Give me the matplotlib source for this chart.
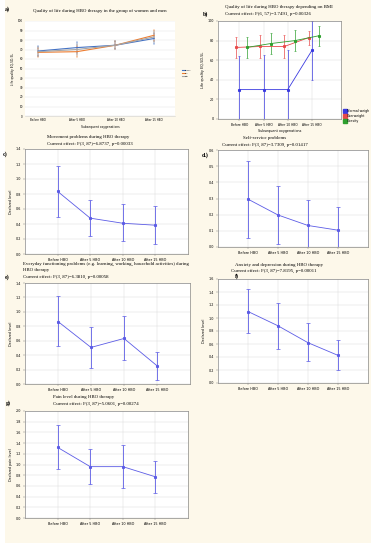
import numpy as np
import matplotlib
matplotlib.use("Agg")
import matplotlib.pyplot as plt
from matplotlib.patches import Rectangle
from matplotlib.lines import Line2D

# ---- DATA ----
stages = ["Before HBO", "After 5 HBO", "After 10 HBO", "After 15 HBO"]

# a) quality of life, women / men / total
a_names = ["Women", "Men", "Total"]
a_blue = [68.4, 72.0, 74.5, 81.6]
a_orange = [67.0, 67.7, 74.5, 85.0]
a_gray = [67.7, 70.0, 74.5, 83.3]
a_err = [4.8, 5.5, 4.4, 5.8]

# b) quality of life by BMI
b_names = ["Normal weigh", "Overweight", "Obesity"]
b_normal = [30, 30, 30, 70]
b_normal_err = [34, 35, 40, 30]
b_over = [73, 74, 74, 83]
b_over_err = [11, 12, 12, 7]
b_obese = [73, 77, 80, 85]
b_obese_err = [11, 11, 11, 10]

# c) movement problems
c_mean = [0.835, 0.478, 0.41, 0.384]
c_lo = [0.50, 0.24, 0.174, 0.134]
c_hi = [1.17, 0.714, 0.67, 0.634]

# d) self-service problems
d_mean = [0.296, 0.198, 0.133, 0.104]
d_lo = [0.058, 0.02, -0.02, -0.04]
d_hi = [0.53, 0.375, 0.29, 0.246]

# e) everyday functioning problems
e_mean = [0.866, 0.507, 0.631, 0.253]
e_lo = [0.52, 0.217, 0.33, 0.055]
e_hi = [1.22, 0.79, 0.94, 0.447]

# f) anxiety and depression
f_mean = [1.10, 0.88, 0.62, 0.425]
f_lo = [0.77, 0.53, 0.34, 0.197]
f_hi = [1.44, 1.23, 0.92, 0.66]

# g) pain level
g_mean = [1.32, 0.96, 0.96, 0.77]
g_lo = [0.91, 0.64, 0.57, 0.47]
g_hi = [1.73, 1.29, 1.36, 1.07]

W, H = 376, 550
fig = plt.figure(figsize=(W / 100, H / 100), dpi=100)
fig.patch.set_facecolor("white")
fig.patches.append(Rectangle((5 / W, 1 - 543 / H), 366 / W, 543 / H,
                             transform=fig.transFigure, facecolor="#fdf8ea",
                             edgecolor="none", zorder=-10))

SERIF = "Liberation Serif"
SANS = "DejaVu Sans"
TFS = 3.5
LFS = 4.3
BLUE = "#5c5ce6"


def box(l, t, r, b):
    return [l / W, 1 - b / H, (r - l) / W, (b - t) / H]


def txt(x, y, s, ha="left", size=TFS, weight="normal"):
    fig.text(x / W, 1 - y / H, s, ha=ha, va="center", fontsize=size,
             family=SERIF, weight=weight)


def stat_axes(rect, ylim, yticks, ylabel):
    ax = fig.add_axes(rect)
    ax.set_facecolor("white")
    ax.set_xlim(-1, 4)
    ax.set_ylim(ylim)
    ax.set_xticks(range(4))
    ax.set_xticklabels(stages, fontsize=2.4, family=SANS)
    ax.set_yticks(yticks)
    ax.set_yticklabels([f"{v:.1f}" for v in yticks], fontsize=2.4, family=SANS)
    ax.tick_params(length=1.2, width=0.3, pad=1.5, color="#777777")
    ax.grid(True, color="#dcdcdc", linewidth=0.35)
    for s in ax.spines.values():
        s.set_color("#888888")
        s.set_linewidth(0.5)
    if ylabel:
        ax.set_ylabel(ylabel, fontsize=2.4, family=SANS, labelpad=2)
    return ax


def stat_line(ax, mean, lo, hi):
    x = np.arange(4)
    mean = np.array(mean)
    yerr = [mean - np.array(lo), np.array(hi) - mean]
    ax.errorbar(x, mean, yerr=yerr, color=BLUE, linewidth=0.6, elinewidth=0.6,
                capsize=1.2, capthick=0.5, marker="s", markersize=1.2)


# ---- a) ----
ax = fig.add_axes(box(25, 21, 175, 116))
ax.set_facecolor("white")
xa = np.arange(4)
for vals, col, name in [(a_blue, "#4472c4", a_names[0]),
                        (a_orange, "#ed7d31", a_names[1]),
                        (a_gray, "#a5a5a5", a_names[2])]:
    ax.errorbar(xa, vals, yerr=a_err, color=col, linewidth=0.8, elinewidth=0.35,
                capsize=0.8, capthick=0.35, label=name)
ax.set_xlim(-0.34, 3.54)
ax.set_ylim(0, 100)
ax.set_yticks(range(0, 101, 10))
ax.set_yticklabels([str(v) for v in range(0, 101, 10)], fontsize=2.0, family=SANS)
ax.set_xticks(xa)
ax.set_xticklabels(stages, fontsize=2.0, family=SANS)
ax.tick_params(length=0, pad=1.5)
ax.grid(True, axis="y", color="#e6e6e6", linewidth=0.35)
for s in ax.spines.values():
    s.set_visible(False)
ax.spines["bottom"].set_visible(True)
ax.spines["bottom"].set_color("#d0d0d0")
ax.spines["bottom"].set_linewidth(0.4)
ax.set_xlabel("Subsequent oxygenations", fontsize=2.2, family=SANS, labelpad=2)
ax.set_ylabel("Life quality EQ-5D-5L", fontsize=2.2, family=SANS, labelpad=2)
a_handles = [Line2D([], [], color=c, linewidth=0.8) for c in ["#4472c4", "#ed7d31", "#a5a5a5"]]
ax.legend(a_handles, a_names, loc="center left", bbox_to_anchor=(1.04, 0.45), fontsize=1.2,
          frameon=False, handlelength=1.6, handletextpad=0.3, borderpad=0, labelspacing=1.0)
txt(5, 9, "a)", size=LFS, weight="bold")
txt(100, 11, "Quality of life during HBO therapy in the group of women and men", ha="center")

# ---- b) ----
ax = fig.add_axes(box(218, 21, 341, 119))
ax.set_facecolor("white")
xb = np.arange(4)
b_cols = ["#3a3ae0", "#e84a4a", "#2ea02e"]
for vals, err, col, off in [(b_normal, b_normal_err, b_cols[0], 0.0),
                            (b_over, b_over_err, b_cols[1], -0.14),
                            (b_obese, b_obese_err, b_cols[2], 0.3)]:
    ax.errorbar(xb + off, vals, yerr=err, color=col, linewidth=0.6, elinewidth=0.5,
                capsize=1.0, capthick=0.4, marker="s", markersize=1.2)
ax.set_xlim(-0.88, 4.2)
ax.set_ylim(0, 100)
ax.set_yticks(range(0, 101, 20))
ax.set_yticklabels([str(v) for v in range(0, 101, 20)], fontsize=2.4, family=SANS)
ax.set_xticks(xb)
ax.set_xticklabels(stages, fontsize=2.2, family=SANS)
ax.tick_params(length=1.2, width=0.3, pad=1.5, color="#777777")
ax.grid(True, color="#dcdcdc", linewidth=0.35)
for s in ax.spines.values():
    s.set_color("#888888")
    s.set_linewidth(0.5)
ax.set_xlabel("Subsequent oxygenations", fontsize=2.4, family=SANS, labelpad=1.5)
ax.set_ylabel("Life quality EQ-5D-5L", fontsize=2.4, family=SANS, labelpad=2)
b_handles = [Line2D([], [], linestyle="none", marker="s", markersize=2.4,
                    markerfacecolor=c, markeredgecolor=c) for c in b_cols]
ax.legend(b_handles, b_names, loc="lower left", bbox_to_anchor=(1.01, -0.06), fontsize=2.3,
          frameon=False, handlelength=0.6, handletextpad=0.5, borderpad=0,
          labelspacing=0.3)
txt(203, 14, "b)", size=LFS, weight="bold")
txt(225, 7, "Quality of life during HBO therapy depending on BMI")
txt(225, 14, "Current effect: F(6, 57)=3.7491, p=0.00326")

# ---- c) ----
ax = stat_axes(box(25, 149, 188, 254), (0, 1.4), np.arange(0, 1.41, 0.2), "Declared level")
stat_line(ax, c_mean, c_lo, c_hi)
txt(3, 154, "c)", size=LFS, weight="bold")
txt(47, 137, "Movement problems during HBO therapy")
txt(47, 144, "Current effect: F(3, 87)=6.8737, p=0.00033")

# ---- d) ----
ax = stat_axes(box(218, 150, 368, 247), (0, 0.6), np.arange(0, 0.61, 0.1), None)
stat_line(ax, d_mean, d_lo, d_hi)
txt(202, 155, "d.)", size=LFS, weight="bold")
txt(265, 138, "Self-service problems", ha="center")
txt(265, 145, "Current effect: F(3, 87)=3.7309, p=0.01417", ha="center")

# ---- e) ----
ax = stat_axes(box(25, 283, 190, 384), (0, 1.4), np.arange(0, 1.41, 0.2), "Declared level")
stat_line(ax, e_mean, e_lo, e_hi)
txt(5, 277, "e)", size=LFS, weight="bold")
txt(23, 264, "Everyday functioning problems (e.g. learning, working, household activities) during")
txt(23, 270, "HBO therapy")
txt(23, 277, "Current effect: F(3, 87)=6.3810, p=0.00058")

# ---- f) ----
ax = stat_axes(box(218, 279, 368, 383), (0, 1.6), np.arange(0, 1.61, 0.2), "Declared level")
stat_line(ax, f_mean, f_lo, f_hi)
txt(235, 276, "f)", size=LFS, weight="bold")
txt(235, 265, "Anxiety and depression during HBO therapy")
txt(231, 271, "Current effect: F(3, 87)=7.8195, p=0.00011")

# ---- g) ----
ax = stat_axes(box(25, 411, 188, 518), (0, 2.0), np.arange(0, 2.01, 0.2), "Declared pain level")
stat_line(ax, g_mean, g_lo, g_hi)
txt(6, 403, "g)", size=LFS, weight="bold")
txt(53, 397, "Pain level during HBO therapy")
txt(53, 404, "Current effect: F(3, 87)=5.0601, p=0.00274")

fig.savefig("out.png", dpi=100)
